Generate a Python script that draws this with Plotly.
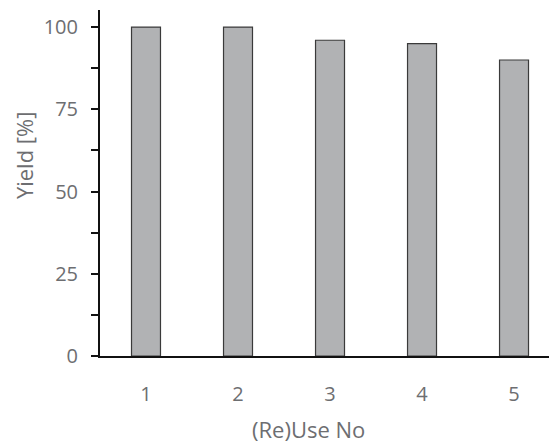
import plotly.graph_objects as go

categories = ["1", "2", "3", "4", "5"]
yield_pct = [100, 100, 96, 95, 90]
y_ticks = [0, 25, 50, 75, 100]
x_title = "(Re)Use No"
y_title = "Yield [%]"

font_color = "#6d6e71"
axis_color = "#111111"

fig = go.Figure()
fig.add_trace(go.Bar(
    x=categories, y=yield_pct, width=0.315,
    marker=dict(color="#b1b2b4", line=dict(color="#3a3a3a", width=1.2)),
))

fig.update_layout(
    width=549, height=435,
    margin=dict(l=92, r=0, t=2, b=87),
    plot_bgcolor="white", paper_bgcolor="white",
    showlegend=False,
    font=dict(family="Open Sans", size=20, color=font_color),
    xaxis=dict(
        type="category", range=[-0.5, 4.467],
        showline=True, linecolor=axis_color, linewidth=2,
        ticks="", showgrid=False, zeroline=False,
        ticklabelstandoff=19,
    ),
    yaxis=dict(
        range=[0, 105.2],
        tickvals=y_ticks, ticktext=[str(v) for v in y_ticks],
        showline=True, linecolor=axis_color, linewidth=2,
        ticks="outside", ticklen=7, tickwidth=1.5, tickcolor=axis_color,
        minor=dict(dtick=12.5, ticks="outside", ticklen=7, tickwidth=1.5,
                   tickcolor=axis_color, showgrid=False),
        showgrid=False, zeroline=False,
        ticklabelstandoff=9,
    ),
    annotations=[
        dict(text=x_title, xref="paper", yref="paper", x=0.457, y=-0.212,
             showarrow=False, xanchor="center", yanchor="middle",
             borderpad=0, font=dict(size=22, color=font_color)),
        dict(text=y_title, xref="paper", yref="paper", x=-0.166, y=0.581,
             showarrow=False, xanchor="center", yanchor="middle", textangle=-90,
             borderpad=0, font=dict(size=22, color=font_color)),
    ],
)

fig.add_shape(type="line", xref="paper", yref="y", x0=-0.016, x1=0, y0=0, y1=0,
              line=dict(color=axis_color, width=2))

fig.write_html("out.html")
